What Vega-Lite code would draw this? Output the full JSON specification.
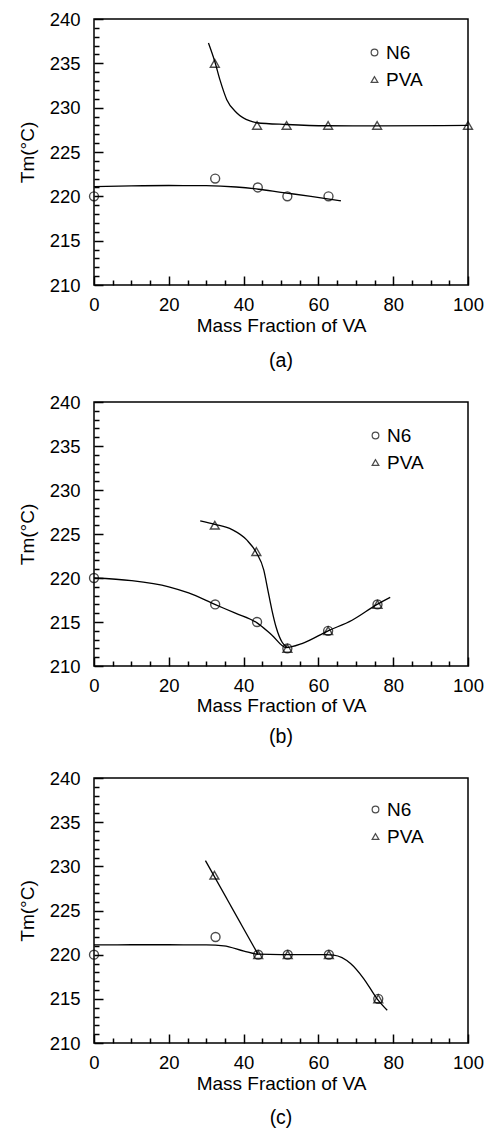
{
  "$schema": "https://vega.github.io/schema/vega-lite/v6.json",
  "padding": {"left": 17, "top": 9, "right": 0, "bottom": 0},
  "spacing": 21,
  "resolve": {"scale": {"shape": "independent"}, "legend": {"shape": "independent"}},
  "datasets": {
    "points": [
      {"panel": "a", "series": "N6", "x": 0, "tm": 220},
      {"panel": "a", "series": "N6", "x": 32.4, "tm": 222},
      {"panel": "a", "series": "N6", "x": 43.8, "tm": 221},
      {"panel": "a", "series": "N6", "x": 51.7, "tm": 220},
      {"panel": "a", "series": "N6", "x": 62.7, "tm": 220},
      {"panel": "a", "series": "PVA", "x": 32.3, "tm": 235},
      {"panel": "a", "series": "PVA", "x": 43.6, "tm": 228},
      {"panel": "a", "series": "PVA", "x": 51.5, "tm": 228},
      {"panel": "a", "series": "PVA", "x": 62.6, "tm": 228},
      {"panel": "a", "series": "PVA", "x": 75.7, "tm": 228},
      {"panel": "a", "series": "PVA", "x": 100, "tm": 228},
      {"panel": "b", "series": "N6", "x": 0, "tm": 220},
      {"panel": "b", "series": "N6", "x": 32.4, "tm": 217},
      {"panel": "b", "series": "N6", "x": 43.6, "tm": 215},
      {"panel": "b", "series": "N6", "x": 51.7, "tm": 212},
      {"panel": "b", "series": "N6", "x": 62.6, "tm": 214},
      {"panel": "b", "series": "N6", "x": 75.8, "tm": 217},
      {"panel": "b", "series": "PVA", "x": 32.3, "tm": 226},
      {"panel": "b", "series": "PVA", "x": 43.4, "tm": 223},
      {"panel": "b", "series": "PVA", "x": 51.7, "tm": 212},
      {"panel": "b", "series": "PVA", "x": 62.6, "tm": 214},
      {"panel": "b", "series": "PVA", "x": 75.8, "tm": 217},
      {"panel": "c", "series": "N6", "x": 0, "tm": 220},
      {"panel": "c", "series": "N6", "x": 32.5, "tm": 222},
      {"panel": "c", "series": "N6", "x": 43.9, "tm": 220},
      {"panel": "c", "series": "N6", "x": 51.8, "tm": 220},
      {"panel": "c", "series": "N6", "x": 62.8, "tm": 220},
      {"panel": "c", "series": "N6", "x": 76.0, "tm": 215},
      {"panel": "c", "series": "PVA", "x": 32.2, "tm": 229},
      {"panel": "c", "series": "PVA", "x": 43.9, "tm": 220},
      {"panel": "c", "series": "PVA", "x": 51.8, "tm": 220},
      {"panel": "c", "series": "PVA", "x": 62.8, "tm": 220},
      {"panel": "c", "series": "PVA", "x": 76.0, "tm": 215}
    ],
    "curves": [
      {"panel": "a", "series": "PVA", "x": 30.6, "tm": 237.3},
      {"panel": "a", "series": "PVA", "x": 32.3, "tm": 235.2},
      {"panel": "a", "series": "PVA", "x": 33.7, "tm": 233.1},
      {"panel": "a", "series": "PVA", "x": 35.5, "tm": 230.9},
      {"panel": "a", "series": "PVA", "x": 38.2, "tm": 229.4},
      {"panel": "a", "series": "PVA", "x": 41.7, "tm": 228.5},
      {"panel": "a", "series": "PVA", "x": 43.5, "tm": 228.3},
      {"panel": "a", "series": "PVA", "x": 51.5, "tm": 228.1},
      {"panel": "a", "series": "PVA", "x": 62.2, "tm": 227.96},
      {"panel": "a", "series": "PVA", "x": 75.8, "tm": 227.95},
      {"panel": "a", "series": "PVA", "x": 100, "tm": 228.0},
      {"panel": "a", "series": "N6", "x": 0, "tm": 221.1},
      {"panel": "a", "series": "N6", "x": 10, "tm": 221.18},
      {"panel": "a", "series": "N6", "x": 20, "tm": 221.22},
      {"panel": "a", "series": "N6", "x": 30, "tm": 221.2},
      {"panel": "a", "series": "N6", "x": 38, "tm": 221.05},
      {"panel": "a", "series": "N6", "x": 44, "tm": 220.8},
      {"panel": "a", "series": "N6", "x": 50, "tm": 220.45},
      {"panel": "a", "series": "N6", "x": 58, "tm": 220.0},
      {"panel": "a", "series": "N6", "x": 66, "tm": 219.5},
      {"panel": "b", "series": "N6", "x": 0, "tm": 220},
      {"panel": "b", "series": "N6", "x": 10, "tm": 219.7},
      {"panel": "b", "series": "N6", "x": 20, "tm": 219.0},
      {"panel": "b", "series": "N6", "x": 25.3, "tm": 218.3},
      {"panel": "b", "series": "N6", "x": 32.3, "tm": 217.0},
      {"panel": "b", "series": "N6", "x": 37.8, "tm": 216.0},
      {"panel": "b", "series": "N6", "x": 43.6, "tm": 214.9},
      {"panel": "b", "series": "N6", "x": 47.6, "tm": 213.5},
      {"panel": "b", "series": "N6", "x": 51.4, "tm": 212.1},
      {"panel": "b", "series": "N6", "x": 55.6, "tm": 212.55},
      {"panel": "b", "series": "N6", "x": 62.6, "tm": 214.0},
      {"panel": "b", "series": "N6", "x": 69, "tm": 215.2},
      {"panel": "b", "series": "N6", "x": 75.7, "tm": 217.0},
      {"panel": "b", "series": "N6", "x": 79.2, "tm": 217.8},
      {"panel": "b", "series": "PVA", "x": 28.4, "tm": 226.5},
      {"panel": "b", "series": "PVA", "x": 32.3, "tm": 226.1},
      {"panel": "b", "series": "PVA", "x": 36.9, "tm": 225.5},
      {"panel": "b", "series": "PVA", "x": 40.9, "tm": 224.3},
      {"panel": "b", "series": "PVA", "x": 43.4, "tm": 222.9},
      {"panel": "b", "series": "PVA", "x": 45.4, "tm": 220.9},
      {"panel": "b", "series": "PVA", "x": 46.5, "tm": 218.6},
      {"panel": "b", "series": "PVA", "x": 47.6, "tm": 216.3},
      {"panel": "b", "series": "PVA", "x": 48.7, "tm": 214.4},
      {"panel": "b", "series": "PVA", "x": 50.3, "tm": 212.7},
      {"panel": "b", "series": "PVA", "x": 51.4, "tm": 212.2},
      {"panel": "c", "series": "N6", "x": 0, "tm": 221.1},
      {"panel": "c", "series": "N6", "x": 10, "tm": 221.12},
      {"panel": "c", "series": "N6", "x": 20, "tm": 221.12},
      {"panel": "c", "series": "N6", "x": 30, "tm": 221.1},
      {"panel": "c", "series": "N6", "x": 34.7, "tm": 221.0},
      {"panel": "c", "series": "N6", "x": 40.1, "tm": 220.4},
      {"panel": "c", "series": "N6", "x": 43.9, "tm": 220.05},
      {"panel": "c", "series": "N6", "x": 50, "tm": 220.0},
      {"panel": "c", "series": "N6", "x": 56, "tm": 220.0},
      {"panel": "c", "series": "N6", "x": 62, "tm": 220.0},
      {"panel": "c", "series": "N6", "x": 64.1, "tm": 219.95},
      {"panel": "c", "series": "N6", "x": 68.6, "tm": 219.0},
      {"panel": "c", "series": "N6", "x": 72.1, "tm": 217.3},
      {"panel": "c", "series": "N6", "x": 75.7, "tm": 215.0},
      {"panel": "c", "series": "N6", "x": 78.4, "tm": 213.7},
      {"panel": "c", "series": "PVA", "x": 29.8, "tm": 230.65},
      {"panel": "c", "series": "PVA", "x": 43.9, "tm": 220.0}
    ]
  },
  "config": {
    "font": "Liberation Sans",
    "view": {"stroke": "black", "strokeWidth": 1.5},
    "axis": {
      "domainColor": "black", "domainWidth": 1.5,
      "tickColor": "black", "tickWidth": 1.5,
      "labelColor": "black", "titleColor": "black",
      "labelFont": "Liberation Sans", "titleFont": "Liberation Sans",
      "labelFontSize": 18.5, "titleFontSize": 19, "titleFontWeight": "normal",
      "grid": false, "labelFlush": false
    },
    "title": {"font": "Liberation Sans", "fontSize": 19.5, "fontWeight": "normal", "color": "black"},
    "legend": {
      "labelFont": "Liberation Sans", "labelFontSize": 19, "labelColor": "black",
      "symbolStrokeColor": "black", "symbolStrokeWidth": 1.2, "symbolSize": 45,
      "rowPadding": 7, "labelOffset": 2, "padding": 0
    }
  },
  "vconcat": [
    {
      "width": 374, "height": 266,
      "title": {"text": "(a)", "orient": "bottom", "offset": 16},
      "resolve": {"axis": {"x": "independent", "y": "independent"}},
      "layer": [
        {
          "data": {"name": "curves"},
          "transform": [{"filter": "datum.panel === 'a'"}],
          "mark": {"type": "line", "interpolate": "monotone", "color": "black", "strokeWidth": 1.3},
          "encoding": {
            "x": {"field": "x", "type": "quantitative", "scale": {"domain": [0, 100], "nice": false},
              "axis": {"orient": "bottom", "title": "Mass Fraction of VA", "values": [0,20,40,60,80,100], "offset": -9, "tickSize": 9, "domain": false, "labelPadding": 10, "titlePadding": 3}},
            "y": {"field": "tm", "type": "quantitative", "scale": {"domain": [210, 240], "nice": false, "zero": false},
              "axis": {"orient": "left", "title": "Tm(°C)", "values": [210,215,220,225,230,235,240], "offset": -9, "tickSize": 9, "domain": false, "labelPadding": 14, "titlePadding": 12}},
            "detail": {"field": "series"}
          }
        },
        {
          "data": {"name": "points"},
          "transform": [{"filter": "datum.panel === 'a'"}],
          "mark": {"type": "point", "filled": false, "stroke": "black", "strokeWidth": 1.4, "size": 80, "clip": false},
          "encoding": {
            "x": {"field": "x", "type": "quantitative",
              "axis": {"orient": "bottom", "title": null, "labels": false, "domain": false, "offset": -5, "tickSize": 5, "values": [5,10,15,25,30,35,45,50,55,65,70,75,85,90,95]}},
            "y": {"field": "tm", "type": "quantitative",
              "axis": {"orient": "left", "title": null, "labels": false, "domain": false, "offset": -5, "tickSize": 5, "values": [211,212,213,214,216,217,218,219,221,222,223,224,226,227,228,229,231,232,233,234,236,237,238,239]}},
            "shape": {"field": "series", "type": "nominal", "scale": {"domain": ["N6", "PVA"], "range": ["circle", "triangle-up"]},
              "legend": {"title": null, "orient": "none", "legendX": 271, "legendY": 24}}
          }
        }
      ]
    },
    {
      "width": 374, "height": 264,
      "title": {"text": "(b)", "orient": "bottom", "offset": 12},
      "resolve": {"axis": {"x": "independent", "y": "independent"}},
      "layer": [
        {
          "data": {"name": "curves"},
          "transform": [{"filter": "datum.panel === 'b'"}],
          "mark": {"type": "line", "interpolate": "monotone", "color": "black", "strokeWidth": 1.3},
          "encoding": {
            "x": {"field": "x", "type": "quantitative", "scale": {"domain": [0, 100], "nice": false},
              "axis": {"orient": "bottom", "title": "Mass Fraction of VA", "values": [0,20,40,60,80,100], "offset": -9, "tickSize": 9, "domain": false, "labelPadding": 10, "titlePadding": 2}},
            "y": {"field": "tm", "type": "quantitative", "scale": {"domain": [210, 240], "nice": false, "zero": false},
              "axis": {"orient": "left", "title": "Tm(°C)", "values": [210,215,220,225,230,235,240], "offset": -9, "tickSize": 9, "domain": false, "labelPadding": 14, "titlePadding": 12}},
            "detail": {"field": "series"}
          }
        },
        {
          "data": {"name": "points"},
          "transform": [{"filter": "datum.panel === 'b'"}],
          "mark": {"type": "point", "filled": false, "stroke": "black", "strokeWidth": 1.4, "size": 80, "clip": false},
          "encoding": {
            "x": {"field": "x", "type": "quantitative",
              "axis": {"orient": "bottom", "title": null, "labels": false, "domain": false, "offset": -5, "tickSize": 5, "values": [5,10,15,25,30,35,45,50,55,65,70,75,85,90,95]}},
            "y": {"field": "tm", "type": "quantitative",
              "axis": {"orient": "left", "title": null, "labels": false, "domain": false, "offset": -5, "tickSize": 5, "values": [211,212,213,214,216,217,218,219,221,222,223,224,226,227,228,229,231,232,233,234,236,237,238,239]}},
            "shape": {"field": "series", "type": "nominal", "scale": {"domain": ["N6", "PVA"], "range": ["circle", "triangle-up"]},
              "legend": {"title": null, "orient": "none", "legendX": 272, "legendY": 24}}
          }
        }
      ]
    },
    {
      "width": 374, "height": 265,
      "title": {"text": "(c)", "orient": "bottom", "offset": 15},
      "resolve": {"axis": {"x": "independent", "y": "independent"}},
      "layer": [
        {
          "data": {"name": "curves"},
          "transform": [{"filter": "datum.panel === 'c'"}],
          "mark": {"type": "line", "interpolate": "monotone", "color": "black", "strokeWidth": 1.3},
          "encoding": {
            "x": {"field": "x", "type": "quantitative", "scale": {"domain": [0, 100], "nice": false},
              "axis": {"orient": "bottom", "title": "Mass Fraction of VA", "values": [0,20,40,60,80,100], "offset": -9, "tickSize": 9, "domain": false, "labelPadding": 10, "titlePadding": 3}},
            "y": {"field": "tm", "type": "quantitative", "scale": {"domain": [210, 240], "nice": false, "zero": false},
              "axis": {"orient": "left", "title": "Tm(°C)", "values": [210,215,220,225,230,235,240], "offset": -9, "tickSize": 9, "domain": false, "labelPadding": 14, "titlePadding": 12}},
            "detail": {"field": "series"}
          }
        },
        {
          "data": {"name": "points"},
          "transform": [{"filter": "datum.panel === 'c'"}],
          "mark": {"type": "point", "filled": false, "stroke": "black", "strokeWidth": 1.4, "size": 80, "clip": false},
          "encoding": {
            "x": {"field": "x", "type": "quantitative",
              "axis": {"orient": "bottom", "title": null, "labels": false, "domain": false, "offset": -5, "tickSize": 5, "values": [5,10,15,25,30,35,45,50,55,65,70,75,85,90,95]}},
            "y": {"field": "tm", "type": "quantitative",
              "axis": {"orient": "left", "title": null, "labels": false, "domain": false, "offset": -5, "tickSize": 5, "values": [211,212,213,214,216,217,218,219,221,222,223,224,226,227,228,229,231,232,233,234,236,237,238,239]}},
            "shape": {"field": "series", "type": "nominal", "scale": {"domain": ["N6", "PVA"], "range": ["circle", "triangle-up"]},
              "legend": {"title": null, "orient": "none", "legendX": 272, "legendY": 22}}
          }
        }
      ]
    }
  ]
}
